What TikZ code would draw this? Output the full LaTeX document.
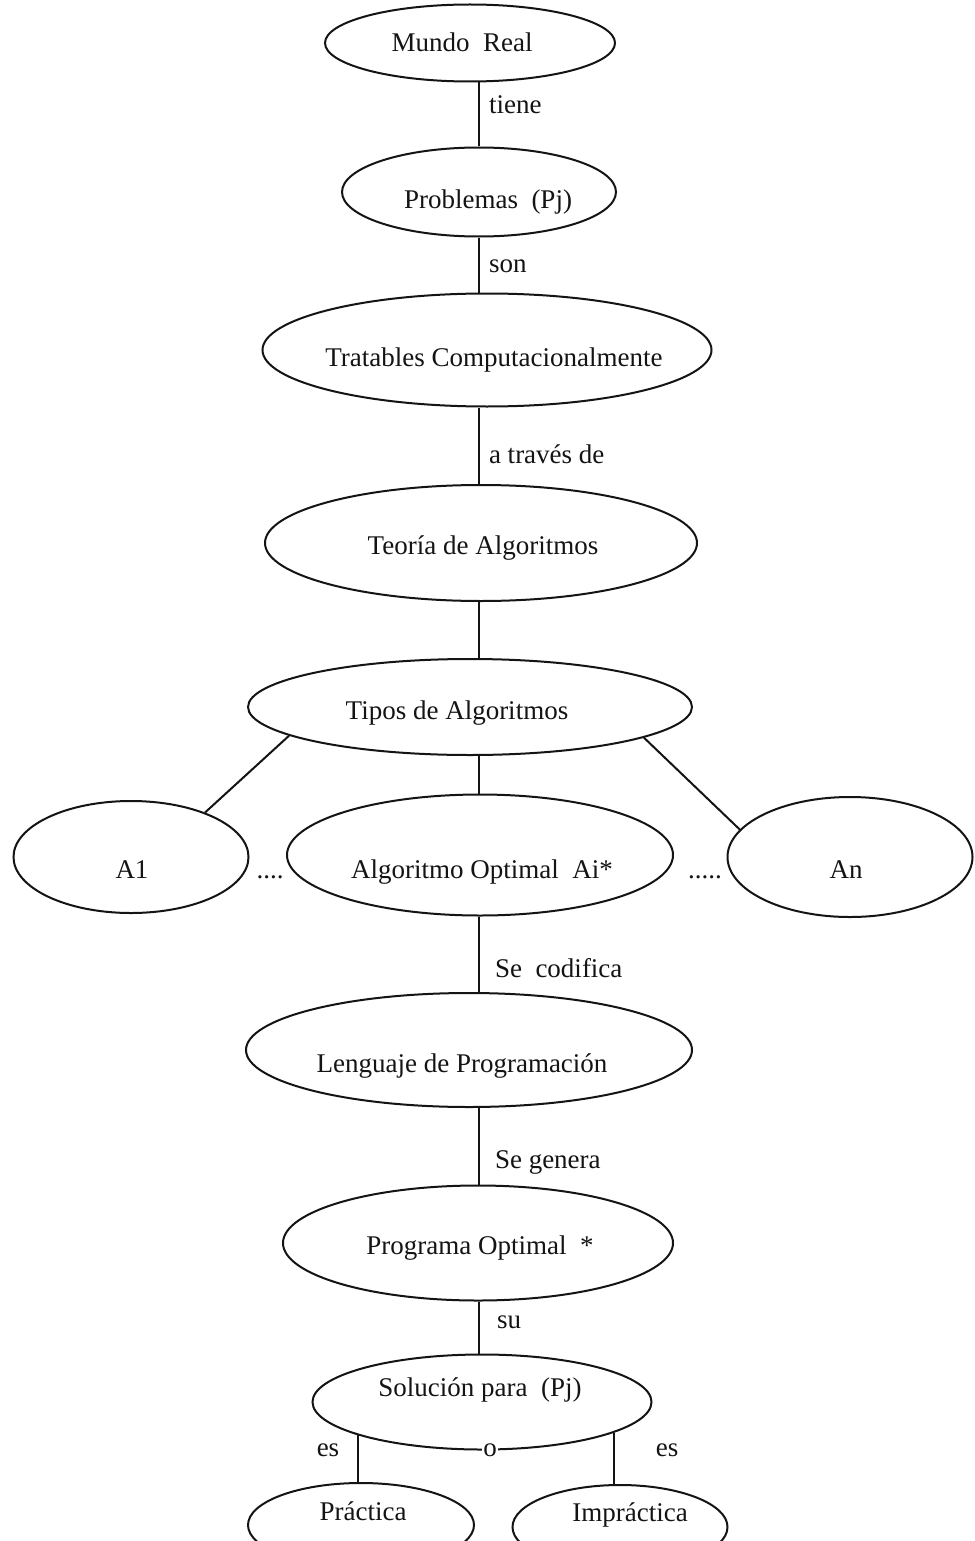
\documentclass[tikz,border=0pt]{standalone}
\usepackage{fontspec}
\setmainfont{Liberation Serif}
\usetikzlibrary{shapes.geometric}

\begin{document}
\begin{tikzpicture}[x=1pt, y=-1pt, line width=2pt, color=black!92,
        elip/.style={draw, ellipse, inner sep=0pt},
        texto/.style={inner sep=1pt, anchor=base, font=\fontsize{27}{32}\selectfont},
        rotulo/.style={texto, anchor=base west}]
            \clip (0,0) rectangle (974,1541);
            \fill[white] (0,0) rectangle (974,1541);
            \coordinate (eje) at (479,0);
            \node[elip, minimum width=290pt, minimum height=77pt] (mundo) at (470,43) {};
            \node[elip, minimum width=274pt, minimum height=89pt] (prob) at (479,192) {};
            \node[elip, minimum width=449pt, minimum height=113pt] (trat) at (487,350) {};
            \node[elip, minimum width=432pt, minimum height=116pt] (teoria) at (481,543) {};
            \node[elip, minimum width=444pt, minimum height=96pt] (tipos) at (470,707) {};
            \node[elip, minimum width=235pt, minimum height=112pt] (a1) at (131,857) {};
            \node[elip, minimum width=386pt, minimum height=121pt] (aopt) at (480,855) {};
            \node[elip, minimum width=245pt, minimum height=120pt] (an) at (850,857) {};
            \node[elip, minimum width=446pt, minimum height=114pt] (leng) at (469,1050) {};
            \node[elip, minimum width=390pt, minimum height=115pt] (prog) at (478,1243) {};
            \node[elip, minimum width=339pt, minimum height=95pt] (sol) at (482,1402) {};
            \node[elip, minimum width=226pt, minimum height=84pt] (prac) at (361,1525) {};
            \node[elip, minimum width=215pt, minimum height=84pt] (impr) at (620,1527) {};
            \node[texto] (tmundo) at (462,52) {Mundo\ \ Real};
            \node[texto] (tprob) at (488,208) {Problemas\ \ (Pj)};
            \node[texto] (ttrat) at (494,366) {Tratables Computacionalmente};
            \node[texto] (tteoria) at (483,554) {Teoría de Algoritmos};
            \node[texto] (ttipos) at (457,719) {Tipos de Algoritmos};
            \node[texto] (ta1) at (132,878) {A1};
            \node[texto] (taopt) at (482,878) {Algoritmo Optimal\ \ Ai*};
            \node[texto] (tan) at (846,878) {An};
            \node[texto] (tleng) at (462,1072) {Lenguaje de Programación};
            \node[texto] (tprog) at (480,1254) {Programa Optimal\ \ *};
            \node[texto] (tsol) at (480,1396) {Solución para\ \ (Pj)};
            \node[texto] (tprac) at (363,1520) {Práctica};
            \node[texto] (timpr) at (630,1521) {Impráctica};
            \node[texto] (pts1) at (270,878) {....};
            \node[texto] (pts2) at (705,878) {.....};
            \draw (mundo.south -| eje) -- (prob.north -| eje) node[rotulo] at (487,114) {tiene};
            \draw (prob.south -| eje) -- (trat.north -| eje) node[rotulo] at (487,272) {son};
            \draw (trat.south -| eje) -- (teoria.north -| eje) node[rotulo] at (487,463) {a través de};
            \draw (teoria.south -| eje) -- (tipos.north -| eje);
            \draw (tipos.south -| eje) -- (aopt.north -| eje);
            \draw (tipos.189) -- (a1.31);
            \draw (tipos.-10) -- (an.166);
            \draw (aopt.south -| eje) -- (leng.north -| eje) node[rotulo] at (493,977) {Se\ \ codifica};
            \draw (leng.south -| eje) -- (prog.north -| eje) node[rotulo] at (493,1168) {Se genera};
            \draw (prog.south -| eje) -- (sol.north -| eje) node[rotulo] at (495,1328) {su};
            \draw (sol.195) -- (sol.195 |- prac.north);
            \draw (sol.-13) -- (sol.-13 |- impr.north);
            \node[texto, anchor=center, fill=white] (o) at ([xshift=8pt]sol.south) {o};
            \node[texto] (es1) at (328,1456) {es};
            \node[texto] (es2) at (667,1456) {es};
        \end{tikzpicture}
\end{document}
